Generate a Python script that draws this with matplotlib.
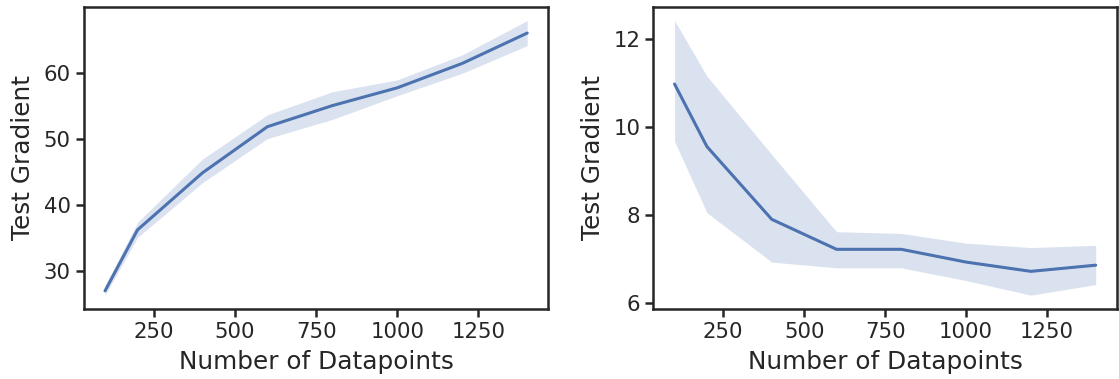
import matplotlib
matplotlib.use("Agg")
import matplotlib.pyplot as plt
import seaborn as sns

sns.set_theme(style="ticks", context="talk")
plt.rcParams['font.family'] = ['DejaVu Sans']

n_points = [100, 200, 400, 600, 800, 1000, 1200, 1400]

left_mean = [27.0, 36.25, 44.9, 51.9, 55.1, 57.8, 61.5, 66.1]
left_low = [26.35, 35.1, 43.4, 50.1, 53.0, 56.6, 60.0, 64.2]
left_high = [27.8, 37.4, 47.0, 53.7, 57.2, 59.0, 62.8, 68.0]

right_mean = [10.97, 9.55, 7.9, 7.22, 7.22, 6.93, 6.72, 6.86]
right_low = [9.67, 8.05, 6.93, 6.8, 6.8, 6.51, 6.18, 6.42]
right_high = [12.41, 11.15, 9.37, 7.62, 7.58, 7.36, 7.26, 7.31]

xlabel = "Number of Datapoints"
ylabel = "Test Gradient"
color = "#4c72b0"

fig = plt.figure(figsize=(11.19, 3.79), dpi=100)
ax1 = fig.add_axes([0.075, 0.185, 0.415, 0.797])
ax2 = fig.add_axes([0.584, 0.185, 0.414, 0.797])

for ax, m, lo, hi, yt in [(ax1, left_mean, left_low, left_high, [30, 40, 50, 60]),
                          (ax2, right_mean, right_low, right_high, [6, 8, 10, 12])]:
    ax.fill_between(n_points, lo, hi, color=color, alpha=0.2, linewidth=0)
    ax.plot(n_points, m, color=color, linewidth=2.2)
    ax.set_xticks([250, 500, 750, 1000, 1250])
    ax.set_yticks(yt)
    ax.set_xlabel(xlabel, fontsize=17.8, labelpad=6)
    ax.set_ylabel(ylabel, fontsize=17.8, labelpad=6)
    ax.tick_params(labelsize=15.3, width=1.8, length=6)
    for s in ax.spines.values():
        s.set_linewidth(1.8)
        s.set_color("#262626")

fig.savefig("out.png", dpi=100)
